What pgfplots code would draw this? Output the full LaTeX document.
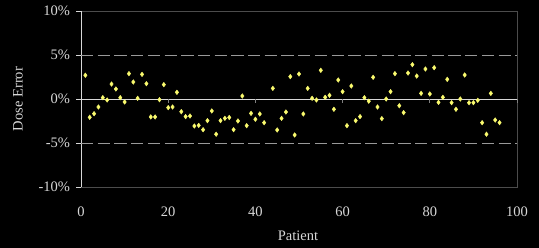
\documentclass[border=0pt]{standalone}
\usepackage{pgfplots}
\pgfplotsset{compat=1.18}
\usepackage{fontspec}
\setmainfont{Liberation Serif}
\definecolor{txtc}{RGB}{215,215,215}
\definecolor{ptc}{RGB}{250,250,110}
\begin{document}
\fontsize{14.5}{17}\selectfont
\begin{tikzpicture}[x=1pt,y=1pt]
\fill[black] (0,0) rectangle (539,248);
\begin{axis}[
  at={(81pt,61pt)}, anchor=south west,
  width=436pt, height=176pt, scale only axis,
  xmin=0, xmax=100, ymin=-10, ymax=10,
  axis line style={draw=none},
  xtick={0,20,...,100}, ytick={-10,-5,...,10},
  xtick style={draw=none},
  ytick style={draw=txtc, line width=0.8pt},
  ytick pos=left, tick align=outside, major tick length=5pt,
  yticklabel={\pgfmathprintnumber{\tick}\%},
  yticklabel style={font=\fontsize{14.5}{17}\selectfont, text=txtc, xshift=-1pt},
  xticklabel style={font=\fontsize{14.5}{17}\selectfont, text=txtc, yshift=-10pt},
  /pgf/number format/assume math mode=true,
  clip=false,
]
\draw[draw=black!70!white, line width=0.9pt] (rel axis cs:0,0) -- (rel axis cs:1,0) -- (rel axis cs:1,1) -- (rel axis cs:0,1);
\draw[draw=txtc, line width=0.9pt] (rel axis cs:0,0) -- (rel axis cs:0,1);
\draw[draw=black!40!white, line width=0.9pt, dash pattern=on 12.3pt off 4.4pt] (axis cs:0,5) -- (axis cs:100,5);
\draw[draw=black!40!white, line width=0.9pt, dash pattern=on 12.3pt off 4.4pt] (axis cs:0,-5) -- (axis cs:100,-5);
\draw[draw=txtc, line width=0.9pt] (axis cs:0,0) -- (axis cs:100,0);
\pgfplotsinvokeforeach{20,40,60,80,100}{\draw[draw=black!50!white, line width=0.8pt] (axis cs:#1,0) -- (axis cs:#1,-0.5);}
\addplot[only marks, mark=diamond*, mark size=2.3pt, draw=ptc, fill=ptc] coordinates {
(1,2.7) (2,-2.08) (3,-1.67) (4,-0.91) (5,0.15) (6,-0.11) (7,1.7) (8,1.14) (9,0.15) (10,-0.34)
(11,2.88) (12,1.93) (13,0.08) (14,2.8) (15,1.74) (16,-2.04) (17,-2.04) (18,-0.08) (19,1.63) (20,-0.98)
(21,-0.91) (22,0.76) (23,-1.44) (24,-2.0) (25,-1.93) (26,-3.07) (27,-3.0) (28,-3.49) (29,-2.46) (30,-1.36)
(31,-4.0) (32,-2.46) (33,-2.2) (34,-2.1) (35,-3.49) (36,-2.5) (37,0.34) (38,-3.03) (39,-1.63) (40,-2.3)
(41,-1.7) (42,-2.69) (44,1.21) (45,-3.52) (46,-2.2) (47,-1.48) (48,2.54) (49,-4.09) (50,2.84)
(51,-1.7) (52,1.21) (53,0.08) (54,-0.11) (55,3.26) (56,0.19) (57,0.42) (58,-1.17) (59,2.16) (60,0.83)
(61,-3.03) (62,1.48) (63,-2.46) (64,-2.0) (65,0.15) (66,-0.25) (67,2.46) (68,-0.91) (69,-2.23) (70,0.0)
(71,0.83) (72,2.88) (73,-0.76) (74,-1.55) (75,2.95) (76,3.9) (77,2.61) (78,0.64) (79,3.41) (80,0.57)
(81,3.56) (82,-0.38) (83,0.19) (84,2.23) (85,-0.42) (86,-1.17) (87,0.0) (88,2.73) (89,-0.42) (90,-0.42)
(91,-0.15) (92,-2.69) (93,-4.0) (94,0.64) (95,-2.39) (96,-2.69)
};
\end{axis}
\node[text=txtc, rotate=90] at (18,149) {Dose Error};
\node[text=txtc] at (298,12) {Patient};
\end{tikzpicture}
\end{document}
